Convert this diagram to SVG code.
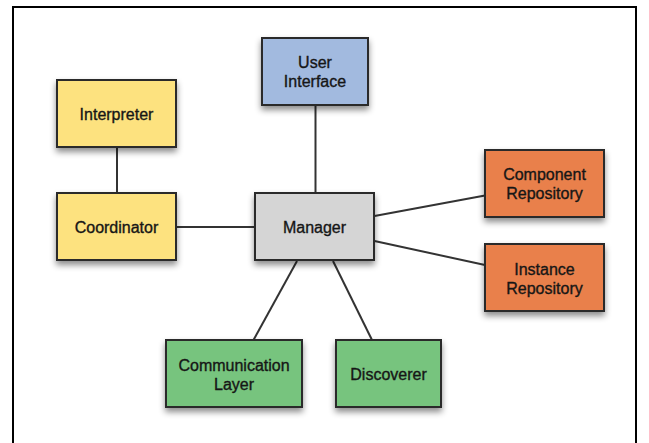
<svg xmlns="http://www.w3.org/2000/svg" width="649" height="443" viewBox="0 0 649 443">
<defs>
<filter id="sh" x="-20%" y="-20%" width="140%" height="160%">
<feDropShadow dx="0" dy="4" stdDeviation="3" flood-color="#000" flood-opacity="0.45"/>
</filter>
<style>
.box{stroke:#2b2b2b;stroke-width:2;filter:url(#sh)}
.yellow{fill:#fde27f}
.blue{fill:#a2badf}
.gray{fill:#d5d5d5}
.orange{fill:#e9804b}
.green{fill:#77c47e}
.lbl{font-family:"Liberation Sans",Arial,sans-serif;font-size:16px;fill:#161616;stroke:#161616;stroke-width:0.35;text-anchor:middle;dominant-baseline:central}
.edge{stroke:#333;stroke-width:2;fill:none}
.frame{stroke:#000;stroke-width:2;fill:none}
</style>
</defs>
<rect width="649" height="443" fill="#fff"/>
<polyline class="frame" points="13,443 13,7 636,7 636,443"/>
<g id="connectors">
<line class="edge" x1="117" y1="147" x2="117" y2="193"/>
<line class="edge" x1="176" y1="227" x2="255" y2="227"/>
<line class="edge" x1="315.5" y1="105" x2="315.5" y2="193"/>
<line class="edge" x1="374.5" y1="216" x2="485" y2="195.5"/>
<line class="edge" x1="374.5" y1="241" x2="485" y2="265"/>
<line class="edge" x1="297" y1="261" x2="253.5" y2="340"/>
<line class="edge" x1="333" y1="261" x2="372" y2="340"/>
</g>
<g id="user-interface">
<rect class="box blue" x="262" y="38" width="106" height="67"/>
<text class="lbl" x="315" y="62.5">User</text>
<text class="lbl" x="315" y="81.5">Interface</text>
</g>
<g id="interpreter">
<rect class="box yellow" x="57" y="80" width="119" height="67"/>
<text class="lbl" x="116.5" y="114.5">Interpreter</text>
</g>
<g id="coordinator">
<rect class="box yellow" x="57" y="193" width="119" height="67"/>
<text class="lbl" x="116.5" y="227">Coordinator</text>
</g>
<g id="manager">
<rect class="box gray" x="255" y="193" width="119" height="67"/>
<text class="lbl" x="314.5" y="227">Manager</text>
</g>
<g id="component-repository">
<rect class="box orange" x="485" y="150" width="119" height="67"/>
<text class="lbl" x="544.5" y="174.5">Component</text>
<text class="lbl" x="544.5" y="193.5">Repository</text>
</g>
<g id="instance-repository">
<rect class="box orange" x="485" y="244" width="119" height="67"/>
<text class="lbl" x="544.5" y="269">Instance</text>
<text class="lbl" x="544.5" y="288">Repository</text>
</g>
<g id="communication-layer">
<rect class="box green" x="166" y="340" width="136" height="67"/>
<text class="lbl" x="234" y="365">Communication</text>
<text class="lbl" x="234" y="384">Layer</text>
</g>
<g id="discoverer">
<rect class="box green" x="336" y="340" width="105" height="67"/>
<text class="lbl" x="388.5" y="374">Discoverer</text>
</g>
</svg>
